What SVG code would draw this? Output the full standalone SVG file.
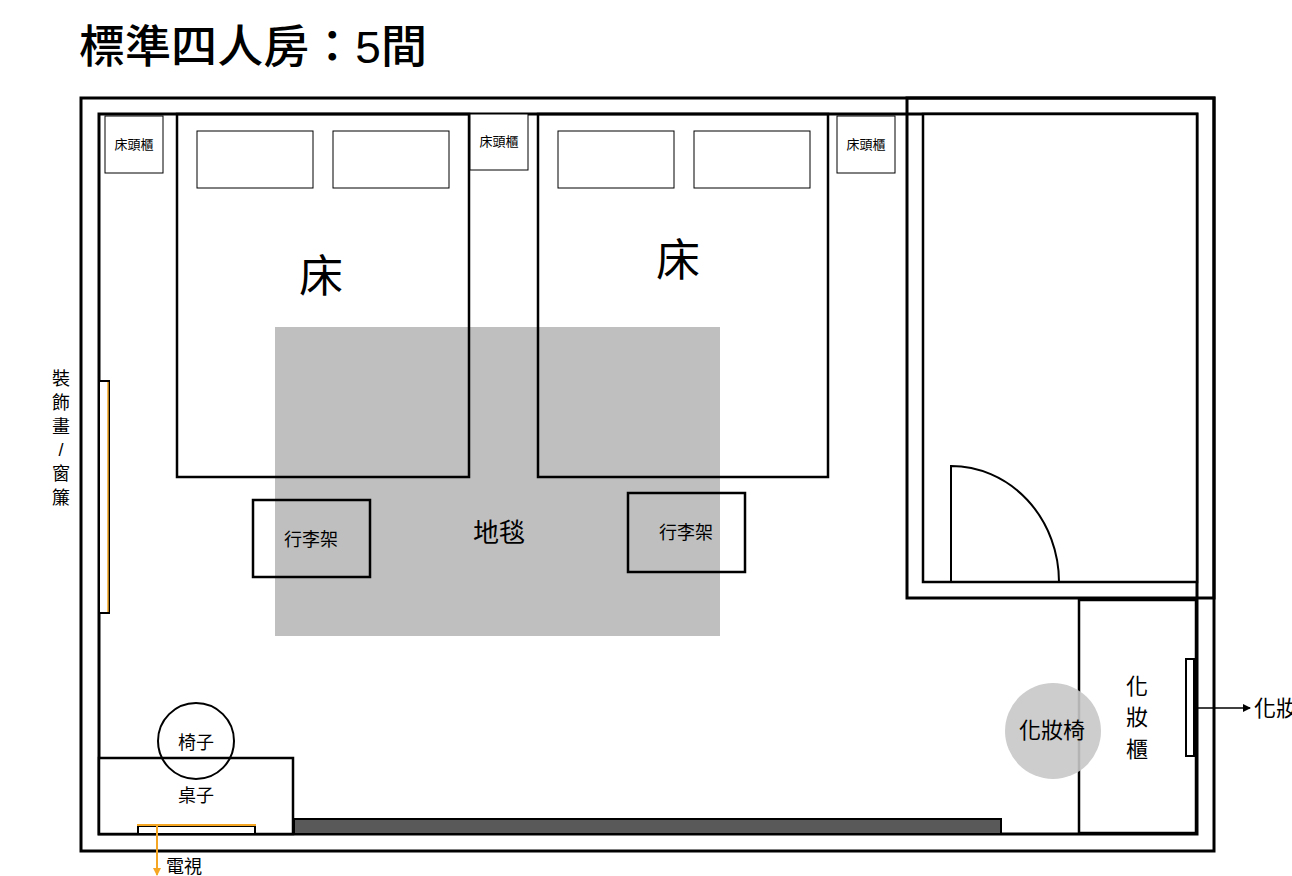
<svg xmlns="http://www.w3.org/2000/svg" width="1292" height="876" viewBox="0 0 1292 876">
<style>
text{font-family:"Liberation Sans","Noto Sans CJK TC",sans-serif;fill:#000}
.w{fill:none;stroke:#000;stroke-width:3}
.b{fill:#fff;stroke:#000;stroke-width:2.5}
.t{fill:#fff;stroke:#000;stroke-width:1}
.c{text-anchor:middle}
</style>
<defs><marker id="ah" markerWidth="8" markerHeight="8" refX="7" refY="4" orient="auto" markerUnits="userSpaceOnUse"><path d="M0,0 L8,4 L0,8z" fill="#000"/></marker>
<marker id="ao" markerWidth="8" markerHeight="8" refX="7" refY="4" orient="auto" markerUnits="userSpaceOnUse"><path d="M0,0 L8,4 L0,8z" fill="#f5a623"/></marker></defs>
<rect width="1292" height="876" fill="#fff"/>
<text x="79" y="63" font-size="45" font-weight="500" textLength="348" lengthAdjust="spacingAndGlyphs">標準四人房：5間</text>
<g id="walls">
<rect class="w" x="81" y="98" width="1133" height="753"/>
<rect class="w" x="99" y="114" width="1098" height="720"/>
</g>
<g id="rug"><rect x="275" y="327" width="445" height="309" fill="#bfbfbf"/></g>
<g id="bed1"><rect class="b" x="177" y="114" width="292" height="363" style="fill:none"/>
<rect class="t" x="197" y="131" width="116" height="57" stroke-width="1.5"/><rect class="t" x="333" y="131" width="116" height="57" stroke-width="1.5"/>
<text x="321" y="292" font-size="44" class="c">床</text></g>
<g id="bed2"><rect class="b" x="538" y="114" width="290" height="363" style="fill:none"/>
<rect class="t" x="558" y="131" width="116" height="57" stroke-width="1.5"/><rect class="t" x="694" y="131" width="116" height="57" stroke-width="1.5"/>
<text x="678" y="276" font-size="44" class="c">床</text></g>
<g id="rugLabel"><text x="499" y="542" font-size="26" class="c">地毯</text></g>
<g id="nightstands">
<rect class="t" x="105" y="116" width="58" height="57"/><text x="134" y="149" font-size="13" class="c">床頭櫃</text>
<rect class="t" x="470" y="114" width="58" height="56"/><text x="499" y="146" font-size="13" class="c">床頭櫃</text>
<rect class="t" x="837" y="116" width="58" height="57"/><text x="866" y="149" font-size="13" class="c">床頭櫃</text>
</g>
<g id="luggage1"><rect class="b" x="253" y="500" width="117" height="77" style="fill:none"/><text x="311" y="546" font-size="18" class="c">行李架</text></g>
<g id="luggage2"><rect class="b" x="628" y="493" width="117" height="79" style="fill:none"/><text x="686" y="539" font-size="18" class="c">行李架</text></g>
<g id="bathroom">
<rect class="w" x="907" y="98" width="307" height="500"/>
<rect class="b" x="923" y="114" width="274" height="468"/>
<path d="M951,583 V466 A108,116 0 0 1 1059,582" fill="none" stroke="#000" stroke-width="2"/>
</g>
<g id="vanity"><rect class="b" x="1079" y="600" width="117" height="233"/>
<rect x="1186" y="659" width="8" height="97" fill="#fff" stroke="#000" stroke-width="2"/>
<text x="1137" y="694" font-size="22" class="c">化</text><text x="1137" y="725" font-size="22" class="c">妝</text><text x="1137" y="757" font-size="22" class="c">櫃</text></g>
<g id="makeupChair"><circle cx="1053" cy="731" r="48" fill="#c8c8c8" fill-opacity="0.9"/><text x="1052" y="738" font-size="22" class="c">化妝椅</text></g>
<g id="bar"><rect x="294" y="819" width="707" height="15" fill="#595959" stroke="#000" stroke-width="2"/></g>
<g id="desk"><rect class="b" x="99" y="758" width="194" height="76"/><text x="196" y="802" font-size="18" class="c">桌子</text>
<rect x="138" y="826" width="117" height="8" fill="#fff" stroke="#000" stroke-width="2"/>
<line x1="137" y1="825" x2="256" y2="825" stroke="#f5a623" stroke-width="2"/></g>
<g id="chair"><circle cx="196" cy="741" r="38" fill="none" stroke="#000" stroke-width="2"/><text x="196" y="749" font-size="18" class="c">椅子</text></g>
<g id="window"><rect x="99" y="381" width="10" height="232" fill="#fff" stroke="#000" stroke-width="2"/><line x1="108" y1="382" x2="108" y2="612" stroke="#f5a623" stroke-width="1.5"/>
<g font-size="18"><text x="61" y="385" class="c">裝</text><text x="61" y="409" class="c">飾</text><text x="61" y="433" class="c">畫</text><text x="61" y="456" class="c">/</text><text x="61" y="480" class="c">窗</text><text x="61" y="504" class="c">簾</text></g></g>
<g id="connectors">
<line x1="1196" y1="708" x2="1250" y2="708" stroke="#000" stroke-width="1.5" marker-end="url(#ah)"/>
<line x1="157" y1="826" x2="157" y2="875" stroke="#f5a623" stroke-width="2" marker-end="url(#ao)"/>
</g>
<text x="1254" y="716" font-size="22">化妝</text>
<text x="166" y="873" font-size="18">電視</text>
</svg>
